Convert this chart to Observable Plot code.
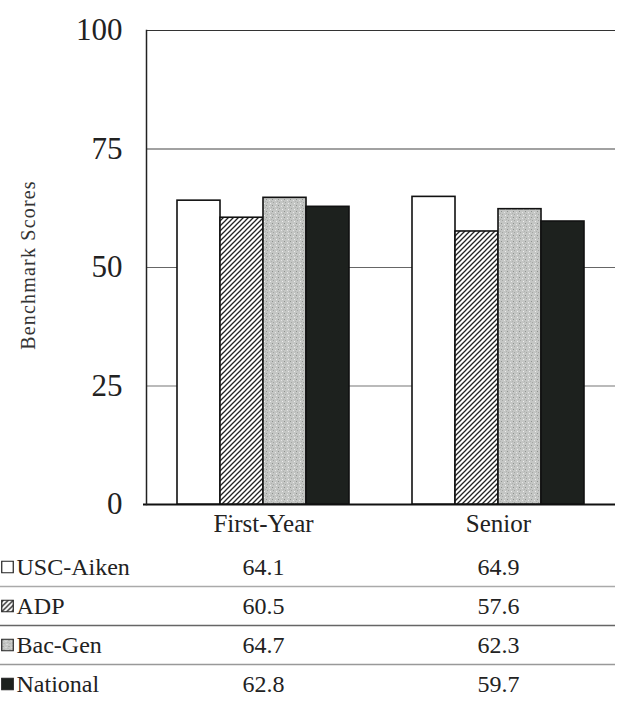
<!DOCTYPE html>
<html>
<head>
<meta charset="utf-8">
<script src="https://cdn.jsdelivr.net/npm/d3@7"></script>
<script src="https://cdn.jsdelivr.net/npm/@observablehq/plot@0.6"></script>
<style>
  html, body { margin: 0; padding: 0; background: #fff; }
  #wrap { position: relative; width: 624px; height: 707px; overflow: hidden; font-family: "Liberation Serif", "Times New Roman", serif; color: #222; }
  #back, #front { position: absolute; left: 0; top: 0; }
  #table { position: absolute; left: 0; top: 545px; }
  #ytitle { position: absolute; left: 28px; top: 265px; transform: translate(-50%, -50%) rotate(-90deg); white-space: nowrap; font-size: 20px; letter-spacing: 1.2px; color: #333; }
  svg { display: block; }
</style>
</head>
<body>
<svg width="0" height="0" style="position:absolute">
  <defs>
    <pattern id="hatch" patternUnits="userSpaceOnUse" width="5" height="5">
      <rect width="5" height="5" fill="#fff"></rect>
      <path d="M-1,1 l2,-2 M0,5 l5,-5 M4,6 l2,-2" stroke="#222" stroke-width="1.3"></path>
    </pattern>
    <pattern id="stipple" patternUnits="userSpaceOnUse" width="6" height="6">
      <rect width="6" height="6" fill="#c4c6c4"></rect>
      <rect x="1" y="1" width="1" height="1" fill="#8f928f"></rect>
      <rect x="4" y="2" width="1" height="1" fill="#e6e6e6"></rect>
      <rect x="2" y="4" width="1" height="1" fill="#a3a5a3"></rect>
      <rect x="5" y="5" width="1" height="1" fill="#eeeeee"></rect>
      <rect x="0" y="3" width="1" height="1" fill="#b0b2b0"></rect>
    </pattern>
  </defs>
</svg>
<div id="wrap">
  <div id="back"></div>
  <div id="front"></div>
  <div id="table"></div>
  <div id="ytitle">Benchmark Scores</div>
</div>
<script>
// ---- data ----
const groups = ["First-Year", "Senior"];
const series = ["USC-Aiken", "ADP", "Bac-Gen", "National"];
const firstYear = [64.1, 60.5, 64.7, 62.8];
const senior = [64.9, 57.6, 62.3, 59.7];
const yTicks = [0, 25, 50, 75, 100];
const gridValues = [25, 50, 75, 100];

const rows = [];
series.forEach((s, i) => {
  rows.push({group: groups[0], series: s, value: firstYear[i]});
  rows.push({group: groups[1], series: s, value: senior[i]});
});

const serif = "'Liberation Serif', 'Times New Roman', serif";
const colorScale = {type: "ordinal", domain: series, range: ["#ffffff", "url(#hatch)", "url(#stipple)", "#1d211e"]};
const gridColor = {25: "#777", 50: "#666", 75: "#444", 100: "#333"};
const sepColor = {"ADP": "#aaa", "Bac-Gen": "#666", "National": "#999"};
const sepDash = {"ADP": "3,4", "Bac-Gen": null, "National": null};
const frameOpts = {width: 624, height: 545, marginTop: 30, marginBottom: 41, marginLeft: 146, marginRight: 9};

// background layer: grid, axes
const back = Plot.plot({
  ...frameOpts,
  style: {fontFamily: serif, background: "transparent"},
  x: {type: "band", domain: groups, axis: null},
  y: {domain: [0, 100], axis: null},
  marks: [
    Plot.ruleY(gridValues, {y: d => d, stroke: d => gridColor[d], strokeWidth: 1.2}),
    Plot.ruleY([0], {stroke: "#111", strokeWidth: 2, insetLeft: -3}),
    Plot.frame({anchor: "left", stroke: "#222", strokeWidth: 1.5}),
    Plot.axisY({ticks: yTicks, tickSize: 0, tickPadding: 24, fontSize: 31, fontFamily: serif, fill: "#222", label: null})
  ]
});
document.getElementById("back").appendChild(back);

// foreground layer: grouped bars
const front = Plot.plot({
  ...frameOpts,
  style: {fontFamily: serif, background: "transparent"},
  fx: {domain: groups, paddingInner: 0.27, paddingOuter: 0.13, label: null},
  x: {domain: series, padding: 0, axis: null},
  y: {domain: [0, 100], axis: null},
  color: colorScale,
  marks: [
    Plot.barY(rows, {fx: "group", x: "series", y: "value", fill: "series", stroke: "#111", strokeWidth: 1.6}),
    Plot.axisFx({anchor: "bottom", tickSize: 0, tickPadding: 10, fontSize: 25, fontFamily: serif, fill: "#222", label: null})
  ]
});
document.getElementById("front").appendChild(front);

// data table below the chart
const table = Plot.plot({
  width: 624,
  height: 162,
  marginTop: 2,
  marginBottom: 4,
  marginLeft: 0,
  marginRight: 9,
  style: {fontFamily: serif, background: "transparent"},
  x: {type: "band", domain: groups, range: [146, 615], paddingInner: 0.27, paddingOuter: 0.13, axis: null},
  y: {type: "band", domain: series, padding: 0, axis: null},
  color: colorScale,
  marks: [
    Plot.ruleY(series.slice(1), {y: d => d, dy: -19.5, stroke: d => sepColor[d], strokeWidth: 1.3, strokeDasharray: d => sepDash[d]}),
    Plot.dot(series, {y: d => d, frameAnchor: "left", dx: 7, symbol: "square", r: 6.5, fill: d => d, stroke: "#222", strokeWidth: 1.2}),
    Plot.text(series, {y: d => d, frameAnchor: "left", dx: 16, textAnchor: "start", fontSize: 24, fontFamily: serif, fill: "#222"}),
    Plot.text(rows, {x: "group", y: "series", text: d => d.value.toFixed(1), fontSize: 24, fontFamily: serif, fill: "#222"})
  ]
});
document.getElementById("table").appendChild(table);
</script>
</body>
</html>
